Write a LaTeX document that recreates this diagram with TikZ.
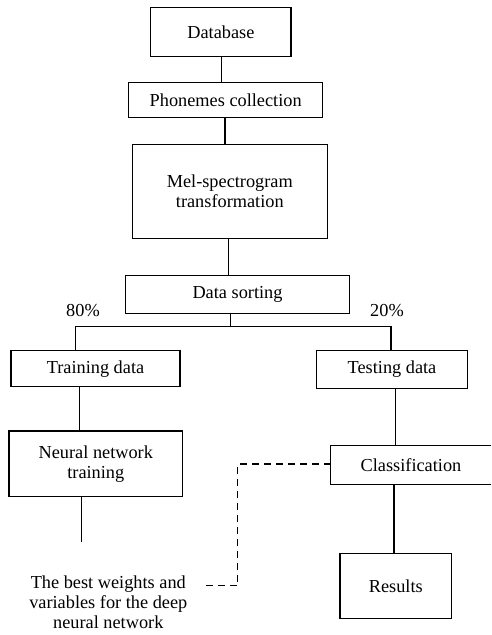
\documentclass[tikz,border=0pt]{standalone}
\usepackage{fontspec}
\setmainfont{Liberation Serif}
\begin{document}
\begin{tikzpicture}[x=1pt,y=-1pt,
  box/.style={draw,line width=1.2pt,inner sep=0pt,align=center,font=\fontsize{18.3}{20}\selectfont},
  openbox/.style={inner sep=0pt,align=center,font=\fontsize{18.3}{20}\selectfont},
  lbl/.style={inner sep=0pt,align=center,font=\fontsize{18.3}{20}\selectfont},
  conn/.style={line width=1.2pt},
  dconn/.style={line width=1.2pt,dash pattern=on 7pt off 5pt}]
\useasboundingbox (0,0) rectangle (491,635);
% boxes (centre, width, height)
\node[box,minimum width=140.3pt,minimum height=49.4pt] (db) at (220.9,32) {Database};
\node[box,minimum width=194pt,minimum height=34.6pt] (ph) at (225.7,100) {Phonemes collection};
\node[box,minimum width=195pt,minimum height=94pt] (mel) at (229.8,191.3) {Mel-spectrogram\\transformation};
\node[box,minimum width=223.6pt,minimum height=38pt] (ds) at (237.5,294.3) {Data sorting};
\node[box,minimum width=169pt,minimum height=36pt] (tr) at (95.5,368.7) {Training data};
\node[box,minimum width=173.7pt,minimum height=65.7pt] (nn) at (95.8,463.8) {Neural network\\training};
\node[box,minimum width=150.6pt,minimum height=37.6pt] (te) at (392,369.5) {Testing data};
\node[openbox,minimum width=160pt,minimum height=38pt] (cl) at (411,465) {Classification};
\draw[line width=1.2pt] (cl.north east) -- (cl.north west) -- (cl.south west) -- (cl.south east);
\node[box,minimum width=111.7pt,minimum height=65pt] (rs) at (395.8,585.8) {Results};
% labels
\node[lbl] (p80) at (83,311) {80\%};
\node[lbl] (p20) at (387,311) {20\%};
\node[lbl] (bw) at (108.3,602.7) {The best weights and\\variables for the deep\\neural network};
% coordinates
\coordinate (split) at (230.7,326.7);
\coordinate (nnend) at (81.7,541.7);
\coordinate (dcorner1) at (237.7,464);
\coordinate (dcorner2) at (237.7,585.7);
\coordinate (dend) at (202.7,585.7);
% connectors
\draw[conn] ([xshift=0.8pt]db.south) -- ([xshift=0.8pt]db.south |- ph.north);
\draw[conn] ([xshift=-0.7pt]ph.south) -- ([xshift=-0.7pt]ph.south |- mel.north);
\draw[conn] ([xshift=-1.5pt]mel.south) -- ([xshift=-1.5pt]mel.south |- ds.north);
\draw[conn] (split |- ds.south) -- (split);
\draw[conn] (split) -- (75.3,326.7) coordinate (sl) -- (sl |- tr.north);
\draw[conn] (split) -- (391,326.7) coordinate (sr) -- (sr |- te.north);
\draw[conn] (79.3,386.7) coordinate (a1) -- (a1 |- nn.north);
\draw[conn] (nnend |- nn.south) -- (nnend);
\draw[conn] (395.7,388.3) coordinate (a2) -- (a2 |- cl.north);
\draw[conn] (394,484) coordinate (a3) -- (a3 |- rs.north);
\draw[dconn] (cl.west |- dcorner1) -- (dcorner1) -- (dcorner2) -- (dend);
\end{tikzpicture}
\end{document}
